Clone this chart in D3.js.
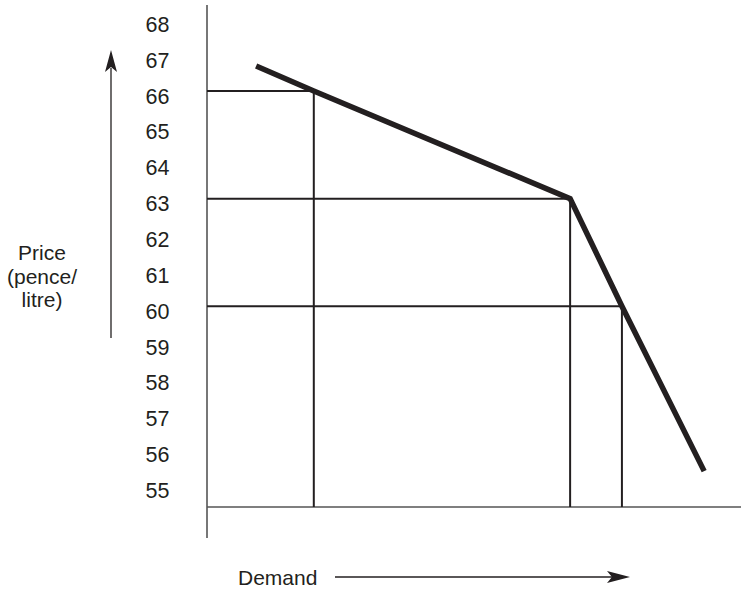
<!DOCTYPE html>
<html><head><meta charset="utf-8">
<script src="https://cdn.jsdelivr.net/npm/d3@7"></script>
<style>html,body{margin:0;padding:0;background:#fff;}svg{display:block;}</style>
</head><body>
<svg id="chart" width="741" height="590"></svg>
<script>
// Data
const demand = [9.2, 20, 68, 77.7, 93.1];
const price  = [66.7, 66, 63, 60, 55.4];
const dropIdx = [1, 2, 3];
const priceTicks = [68, 67, 66, 65, 64, 63, 62, 61, 60, 59, 58, 57, 56, 55];
const yLabelLines = ["Price", "(pence/", "litre)"];
const xLabel = "Demand";

const svg = d3.select("#chart");
const font = "'Liberation Sans', Arial, Helvetica, sans-serif";
const ink = "#231f20";

const x = d3.scaleLinear().domain([0, 100]).range([207, 741]);
const y = d3.scaleLinear().domain([54.4, 68.4]).range([507, 5]);

// axes lines
svg.append("line").attr("x1", x(0)).attr("x2", x(0)).attr("y1", y(68.4)).attr("y2", 538)
  .attr("stroke", "#555").attr("stroke-width", 1.6);
svg.append("line").attr("x1", x(0)).attr("x2", x(100)).attr("y1", y(54.4)).attr("y2", y(54.4))
  .attr("stroke", "#555").attr("stroke-width", 1.6);

// tick labels
svg.append("g").selectAll("text").data(priceTicks).join("text")
  .attr("x", 169.5).attr("y", d => y(d) + 5)
  .attr("dy", "0.35em")
  .attr("text-anchor", "end")
  .attr("font-family", font).attr("font-size", 21.5).attr("fill", ink)
  .text(d => d);

// horizontal and vertical guides
const g = svg.append("g").attr("stroke", ink).attr("stroke-width", 2);
dropIdx.forEach(i => {
  g.append("line").attr("x1", x(0)).attr("x2", x(demand[i]))
    .attr("y1", y(price[i])).attr("y2", y(price[i]));
  g.append("line").attr("x1", x(demand[i])).attr("x2", x(demand[i]))
    .attr("y1", y(price[i])).attr("y2", y(54.4));
});

// demand curve
const line = d3.line().x((d, i) => x(demand[i])).y((d, i) => y(price[i]));
svg.append("path").datum(demand).attr("d", line)
  .attr("fill", "none").attr("stroke", ink).attr("stroke-width", 5.5)
  .attr("stroke-linejoin", "miter");

// price arrow
svg.append("line").attr("x1", 111).attr("x2", 111).attr("y1", 338).attr("y2", 68)
  .attr("stroke", ink).attr("stroke-width", 1.3);
svg.append("path").attr("d", "M111,50 L105,72 L111,67 L117,72 Z").attr("fill", ink);
// demand arrow
svg.append("line").attr("x1", 335).attr("x2", 612).attr("y1", 577).attr("y2", 577)
  .attr("stroke", ink).attr("stroke-width", 1.3);
svg.append("path").attr("d", "M630,577 L607,571 L612,577 L607,583 Z").attr("fill", ink);

// labels
svg.append("text").attr("x", 42).attr("font-family", font).attr("font-size", 21)
  .attr("fill", ink).attr("text-anchor", "middle")
  .selectAll("tspan").data(yLabelLines).join("tspan")
  .attr("x", 42).attr("y", (d, i) => 260 + i * 23.5).text(d => d);

svg.append("text").attr("x", 238).attr("y", 585).attr("font-family", font)
  .attr("font-size", 21).attr("fill", ink).text(xLabel);
</script>
</body></html>
